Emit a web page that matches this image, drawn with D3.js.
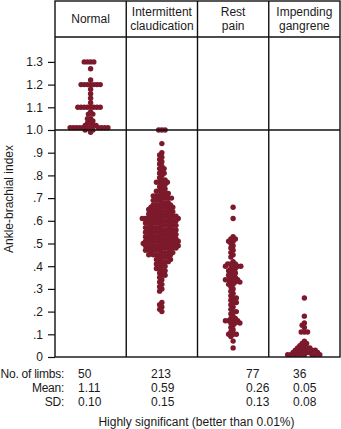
<!DOCTYPE html>
<html>
<head>
<meta charset="utf-8">
<script src="https://cdn.jsdelivr.net/npm/d3@7"></script>
<style>
  html, body { margin: 0; padding: 0; background: #fff; }
  svg { display: block; font-family: "Liberation Sans", Arial, sans-serif; }
  text { fill: #1a1a1a; }
</style>
</head>
<body>
<svg id="chart" width="341" height="429"></svg>
<script>
// Clinical groups and their header lines
const categories = ["Normal", "Intermittent claudication", "Rest pain", "Impending gangrene"];
const headerLines = [["Normal"], ["Intermittent", "claudication"], ["Rest", "pain"], ["Impending", "gangrene"]];

// Ankle-brachial index readings per limb, as [value, number of limbs]
const normalABI = [
  [1.30, 4], [1.27, 1], [1.22, 1], [1.20, 7], [1.18, 1], [1.16, 1], [1.14, 1],
  [1.12, 1], [1.10, 8], [1.08, 1], [1.07, 2], [1.05, 2], [1.04, 1], [1.03, 2],
  [1.02, 3], [1.01, 11], [1.00, 2], [0.99, 1]
];
const claudicationABI = [
  [1.00, 3], [0.94, 1], [0.90, 1], [0.89, 1], [0.88, 1], [0.87, 1], [0.86, 1],
  [0.85, 1], [0.84, 1], [0.83, 2], [0.82, 1], [0.81, 2], [0.80, 1], [0.79, 1],
  [0.78, 2], [0.77, 3], [0.76, 2], [0.75, 1], [0.74, 2], [0.73, 2], [0.72, 3],
  [0.71, 3], [0.70, 4], [0.69, 3], [0.68, 3], [0.67, 4], [0.66, 5], [0.65, 5],
  [0.64, 5], [0.63, 5], [0.62, 6], [0.61, 8], [0.60, 6], [0.59, 6], [0.58, 6],
  [0.57, 6], [0.56, 6], [0.55, 6], [0.54, 6], [0.53, 6], [0.52, 6], [0.51, 7],
  [0.50, 7], [0.49, 7], [0.48, 6], [0.47, 6], [0.46, 5], [0.45, 5], [0.44, 3],
  [0.43, 3], [0.42, 3], [0.41, 2], [0.40, 2], [0.39, 2], [0.38, 2], [0.37, 1],
  [0.36, 2], [0.35, 1], [0.34, 1], [0.33, 1], [0.32, 1], [0.31, 1], [0.30, 1],
  [0.29, 1], [0.24, 1], [0.23, 1], [0.22, 1], [0.21, 1], [0.20, 1]
];
const restPainABI = [
  [0.66, 1], [0.61, 1], [0.53, 1], [0.52, 2], [0.51, 2], [0.50, 1], [0.49, 1],
  [0.48, 1], [0.47, 1], [0.46, 1], [0.45, 1], [0.44, 1], [0.42, 1], [0.41, 3],
  [0.40, 4], [0.39, 2], [0.38, 2], [0.37, 2], [0.36, 2], [0.35, 2], [0.34, 4],
  [0.33, 3], [0.32, 2], [0.31, 1], [0.30, 1], [0.29, 1], [0.28, 1], [0.27, 1],
  [0.26, 2], [0.25, 1], [0.24, 2], [0.23, 1], [0.22, 1], [0.21, 1], [0.20, 2],
  [0.19, 1], [0.18, 1], [0.17, 2], [0.16, 4], [0.15, 3], [0.14, 1], [0.13, 1],
  [0.12, 1], [0.11, 1], [0.10, 3], [0.09, 1], [0.07, 1], [0.04, 1]
];
const gangreneABI = [
  [0.26, 1], [0.18, 1], [0.15, 1], [0.14, 1], [0.13, 1], [0.11, 3], [0.07, 1],
  [0.06, 2], [0.05, 2], [0.04, 4], [0.03, 5], [0.02, 6], [0.01, 8]
];
const groupData = [normalABI, claudicationABI, restPainABI, gangreneABI];

// Summary rows under the plot
const statLabels = ["No. of limbs:", "Mean:", "SD:"];
const limbCounts = ["50", "213", "77", "36"];
const meanValues = ["1.11", "0.59", "0.26", "0.05"];
const sdValues = ["0.10", "0.15", "0.13", "0.08"];
const statX = [78, 151, 246, 293];
const footnote = "Highly significant (better than 0.01%)";

const yTicks = d3.range(0, 14).map(i => i / 10);

const svg = d3.select("#chart");
const plotLeft = 55, plotRight = 340, plotTop = 1, headerBottom = 37, plotBottom = 357;
const dotColor = "#7c1a2c";
const r = 2.7, minDist = 3.2;
const fs = 12;

const x = d3.scaleBand().domain(categories).range([plotLeft, plotRight]).padding(0);
const y = d3.scaleLinear().domain([0, 1.3]).range([plotBottom, plotBottom - 1.3 * 227]);

// Beeswarm placement: each dot goes as close to the column centre as it can
function dodge(values) {
  const placed = [];
  for (const v of values) {
    const cy = y(v);
    const near = placed.filter(p => Math.abs(p.cy - cy) < minDist);
    const cands = [0];
    for (const p of near) {
      const dx = Math.sqrt(minDist * minDist - (p.cy - cy) ** 2);
      cands.push(p.dx + dx, p.dx - dx);
    }
    cands.sort((a, b) => Math.abs(a) - Math.abs(b) || a - b);
    let best = 0;
    for (const c of cands) {
      if (near.every(p => (p.dx - c) ** 2 + (p.cy - cy) ** 2 >= minDist * minDist - 1e-6)) { best = c; break; }
    }
    placed.push({ v, cy, dx: best });
  }
  return placed;
}

svg.append("defs").append("clipPath").attr("id", "plot-clip")
  .append("rect").attr("x", plotLeft).attr("y", plotTop)
  .attr("width", plotRight - plotLeft).attr("height", plotBottom - plotTop);

const dotsG = svg.append("g").attr("clip-path", "url(#plot-clip)");
categories.forEach((cat, i) => {
  const values = [];
  groupData[i].forEach(([v, n]) => { for (let k = 0; k < n; k++) values.push(v); });
  values.sort((a, b) => b - a);
  const cx = x(cat) + x.bandwidth() / 2;
  dotsG.selectAll(null).data(dodge(values)).join("circle")
    .attr("cx", d => cx + d.dx)
    .attr("cy", d => d.cy)
    .attr("r", r)
    .attr("fill", dotColor);
});

// Frame, header band and column dividers
const lineColor = "#111", lw = 1.4;
svg.append("rect").attr("x", plotLeft).attr("y", plotTop)
  .attr("width", plotRight - plotLeft).attr("height", plotBottom - plotTop)
  .attr("fill", "none").attr("stroke", lineColor).attr("stroke-width", lw);
svg.append("line").attr("x1", plotLeft).attr("x2", plotRight).attr("y1", headerBottom).attr("y2", headerBottom)
  .attr("stroke", lineColor).attr("stroke-width", lw);
categories.slice(1).forEach(cat => {
  svg.append("line").attr("x1", x(cat)).attr("x2", x(cat)).attr("y1", plotTop).attr("y2", plotBottom)
    .attr("stroke", lineColor).attr("stroke-width", lw);
});
// Reference line at ABI = 1.0
svg.append("line").attr("x1", plotLeft).attr("x2", plotRight).attr("y1", y(1)).attr("y2", y(1))
  .attr("stroke", lineColor).attr("stroke-width", lw);

// Y axis
const yAxis = d3.axisLeft(y).tickValues(yTicks).tickSize(7).tickPadding(5)
  .tickFormat(v => v === 0 ? "0" : v < 1 ? d3.format(".1f")(v).replace(/^0/, "") : d3.format(".1f")(v));
const ag = svg.append("g").attr("transform", `translate(${plotLeft},0)`).call(yAxis);
ag.select(".domain").remove();
ag.selectAll(".tick line").attr("stroke", lineColor).attr("stroke-width", 1.2);
ag.selectAll(".tick text").attr("font-size", fs).attr("fill", "#1a1a1a")
  .attr("font-family", "Liberation Sans, Arial, sans-serif");

svg.append("text")
  .attr("transform", `translate(12.5,199) rotate(-90)`)
  .attr("text-anchor", "middle").attr("font-size", fs)
  .text("Ankle-brachial index");

// Column headers (two-line labels as one text with tspans)
categories.forEach((cat, i) => {
  const cx = x(cat) + x.bandwidth() / 2;
  const lines = headerLines[i];
  const t = svg.append("text").attr("text-anchor", "middle").attr("font-size", fs)
    .attr("y", lines.length === 1 ? 23.3 : 16.2);
  lines.forEach((s, j) => {
    t.append("tspan").attr("x", cx).attr("dy", j === 0 ? 0 : 13.4).text(s);
  });
});

// Summary statistics
const rowsY = [377.5, 392, 405.5];
const rows = [limbCounts, meanValues, sdValues];
statLabels.forEach((lab, j) => {
  svg.append("text").attr("x", 64).attr("y", rowsY[j]).attr("text-anchor", "end")
    .attr("font-size", fs).attr("letter-spacing", -0.25).text(lab);
  rows[j].forEach((t, i) => {
    svg.append("text").attr("x", statX[i]).attr("y", rowsY[j]).attr("font-size", fs).text(t);
  });
});

svg.append("text").attr("x", 196.5).attr("y", 425.5).attr("text-anchor", "middle")
  .attr("font-size", fs).text(footnote);
</script>
</body>
</html>
